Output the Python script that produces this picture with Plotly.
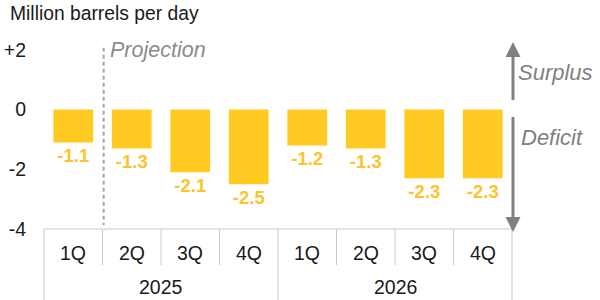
import plotly.graph_objects as go

quarters = ["1Q", "2Q", "3Q", "4Q", "1Q", "2Q", "3Q", "4Q"]
years = ["2025", "2026"]
values = [-1.1, -1.3, -2.1, -2.5, -1.2, -1.3, -2.3, -2.3]
labels = ["-1.1", "-1.3", "-2.1", "-2.5", "-1.2", "-1.3", "-2.3", "-2.3"]
ytick_vals = [2, 0, -2, -4]
ytick_text = ["+2", "0", "-2", "-4"]

W, H = 600, 300
ML, MR, MT, MB = 44, 88, 35, 71
PW, PH = W - ML - MR, H - MT - MB
FONT = "Liberation Sans, Arial, sans-serif"
BAR = "#FFCB22"
LBL = "#FBC42C"
GRID = "#C9C9C9"
GREY = "#808080"

def px(xp):
    return (xp - ML) / PW

def py(yp):
    return (H - MB - yp) / PH

n = len(values)
xs = list(range(n))

fig = go.Figure(go.Bar(
    x=xs, y=values, width=0.68, marker=dict(color=BAR, line=dict(width=0)),
    text=[f"<b>{t}</b>" for t in labels], textposition="outside", constraintext="none",
    textfont=dict(color=LBL, size=18.5, family=FONT), cliponaxis=False,
    hoverinfo="skip",
))

shapes = []
shapes.append(dict(type="line", xref="paper", yref="paper", x0=0, x1=1, y0=0, y1=0,
                   line=dict(color=GRID, width=1)))
for b in range(n + 1):
    xpaper = b / n
    full = b in (0, n // 2, n)
    y1 = py(300) if full else py(265)
    shapes.append(dict(type="line", xref="paper", yref="paper", x0=xpaper, x1=xpaper,
                       y0=0, y1=y1, line=dict(color=GRID, width=1)))
shapes.append(dict(type="line", xref="x", yref="y", x0=0.52, x1=0.52, y0=2.07, y1=-3.87,
                   line=dict(color="#A6A6A6", width=2, dash="4px,3px")))
ax = px(513)
hw = 7.5 / PW
shapes.append(dict(type="line", xref="paper", yref="paper", x0=ax, x1=ax, y0=py(100), y1=py(55),
                   line=dict(color=GREY, width=3)))
shapes.append(dict(type="path", xref="paper", yref="paper",
                   path=f"M {ax-hw},{py(57)} L {ax+hw},{py(57)} L {ax},{py(42)} Z",
                   fillcolor=GREY, line=dict(width=0)))
shapes.append(dict(type="line", xref="paper", yref="paper", x0=ax, x1=ax, y0=py(117), y1=py(219),
                   line=dict(color=GREY, width=3)))
shapes.append(dict(type="path", xref="paper", yref="paper",
                   path=f"M {ax-hw},{py(217)} L {ax+hw},{py(217)} L {ax},{py(232)} Z",
                   fillcolor=GREY, line=dict(width=0)))

annotations = []
for i, q in enumerate(quarters):
    annotations.append(dict(x=(i + 0.5) / n, y=py(253), xref="paper", yref="paper", text=q,
                            showarrow=False, xanchor="center", yanchor="middle",
                            font=dict(size=19.5, color="#1a1a1a", family=FONT)))
for j, yr in enumerate(years):
    annotations.append(dict(x=(j * 4 + 2) / n, y=py(287), xref="paper", yref="paper", text=yr,
                            showarrow=False, xanchor="center", yanchor="middle",
                            font=dict(size=19.5, color="#1a1a1a", family=FONT)))
annotations.append(dict(x=px(108), y=py(50), xref="paper", yref="paper", text="<i>Projection</i>",
                        showarrow=False, xanchor="left", yanchor="middle",
                        font=dict(size=21.5, color="#8C8C8C", family=FONT)))
annotations.append(dict(x=px(516), y=py(72), xref="paper", yref="paper", text="<i>Surplus</i>",
                        showarrow=False, xanchor="left", yanchor="middle",
                        font=dict(size=22, color=GREY, family=FONT)))
annotations.append(dict(x=px(519), y=py(137), xref="paper", yref="paper", text="<i>Deficit</i>",
                        showarrow=False, xanchor="left", yanchor="middle",
                        font=dict(size=22, color=GREY, family=FONT)))
annotations.append(dict(x=px(8), y=py(14), xref="paper", yref="paper", text="Million barrels per day",
                        showarrow=False, xanchor="left", yanchor="middle",
                        font=dict(size=19.3, color="#1a1a1a", family=FONT)))

fig.update_layout(
    width=W, height=H, margin=dict(l=ML, r=MR, t=MT, b=MB, pad=0, autoexpand=False),
    plot_bgcolor="white", paper_bgcolor="white", showlegend=False,
    shapes=shapes, annotations=annotations,
    xaxis=dict(range=[-0.5, n - 0.5], showticklabels=False, showgrid=False, zeroline=False,
               showline=False, fixedrange=True, automargin=False),
    yaxis=dict(range=[-4, 2.5], tickvals=ytick_vals, ticktext=ytick_text, showgrid=False,
               zeroline=False, showline=False, ticks="", ticklabelstandoff=17, automargin=False,
               tickfont=dict(size=19.5, color="#1a1a1a", family=FONT), fixedrange=True),
    font=dict(family=FONT),
)

fig.write_html("out.html", config={"displayModeBar": False})
